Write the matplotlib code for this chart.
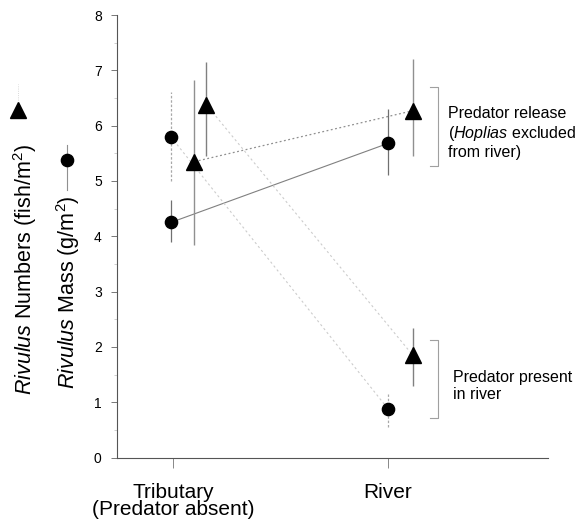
import matplotlib
matplotlib.use("Agg")
import matplotlib.pyplot as plt

plt.rcParams['font.family'] = ['Liberation Sans', 'DejaVu Sans']
plt.rcParams['mathtext.fontset'] = 'custom'
plt.rcParams['mathtext.rm'] = 'Liberation Sans'
plt.rcParams['mathtext.it'] = 'Liberation Sans:italic'

sites = ["Tributary\n(Predator absent)", "River"]

# mass (g/m2), circles
mass_release = [4.25, 5.68]
mass_release_lo = [3.9, 5.1]
mass_release_hi = [4.65, 6.3]
mass_present = [5.8, 0.88]
mass_present_lo = [5.0, 0.55]
mass_present_hi = [6.6, 1.15]

# numbers (fish/m2), triangles
num_release = [5.35, 6.27]
num_release_lo = [3.84, 5.45]
num_release_hi = [6.83, 7.2]
num_present = [6.38, 1.85]
num_present_lo = [5.45, 1.3]
num_present_hi = [7.15, 2.35]

# bracket spans for the two treatments
release_span = [5.27, 6.7]
present_span = [0.72, 2.12]

# horizontal offsets of each series at the two sites
off_mass = [-0.01, 0.0]
off_num_rel = [0.10, 0.115]
off_num_pre = [0.155, 0.115]

fig = plt.figure(figsize=(5.81, 5.25), dpi=100)
ax = fig.add_axes([0.2014, 0.1284, 0.742, 0.843])

xs = range(len(sites))
xm = [x + o for x, o in zip(xs, off_mass)]
xr = [x + o for x, o in zip(xs, off_num_rel)]
xp = [x + o for x, o in zip(xs, off_num_pre)]

# connecting lines
ax.plot(xm, mass_release, color='#808080', lw=0.8, zorder=1)
ax.plot(xr, num_release, color='#909090', lw=0.9, ls=(0, (1.5, 2)), zorder=1)
ax.plot(xm, mass_present, color='#cccccc', lw=0.8, ls=(0, (2, 2.5)), zorder=1)
ax.plot(xp, num_present, color='#cccccc', lw=0.8, ls=(0, (2, 2.5)), zorder=1)

# error bars
ax.vlines(xm, mass_release_lo, mass_release_hi, color='#707070', lw=0.9, zorder=2)
ax.vlines(xm, mass_present_lo, mass_present_hi, color='#a8a8a8', lw=0.9,
          ls=(0, (2, 1.5)), zorder=2)
ax.vlines(xr, num_release_lo, num_release_hi, color='#909090', lw=1.0, zorder=2)
ax.vlines(xp, num_present_lo, num_present_hi, color='#808080', lw=1.0, zorder=2)

# markers
ax.plot(xm, mass_release, 'o', color='black', ms=8.8, ls='none', zorder=3)
ax.plot(xm, mass_present, 'o', color='black', ms=8.8, ls='none', zorder=3)
ax.plot(xr, num_release, '^', color='black', ms=11, ls='none', zorder=3)
ax.plot(xp, num_present, '^', color='black', ms=11, ls='none', zorder=3)

# brackets
bx, bt = 1.23, 1.197
for lo, hi in [release_span, present_span]:
    ax.plot([bt, bx, bx, bt], [hi, hi, lo, lo], color='#a0a0a0', lw=0.8,
            clip_on=False)

ax.text(1.28, 5.87, "Predator release\n($\\it{Hoplias}$ excluded\nfrom river)",
        fontsize=11.5, va='center', ha='left', linespacing=1.2)
ax.text(1.30, 1.29, "Predator present\nin river", fontsize=11.5, va='center',
        ha='left', linespacing=1.2)

ax.set_xlim(-0.26, 1.744)
ax.set_ylim(0, 8)
ax.set_xticks(list(xs))
ax.set_xticklabels(sites, fontsize=15, linespacing=0.9)
ax.set_yticks(range(9))
ax.set_yticks([i + 0.5 for i in range(8)], minor=True)
ax.tick_params(axis='y', labelsize=10, length=4, width=0.7, pad=7,
               color='#777777')
ax.tick_params(axis='y', which='minor', length=2, width=0.5, color='#bbbbbb')
ax.tick_params(axis='x', length=7, width=0.7, pad=11, color='#888888')
for s in ['top', 'right']:
    ax.spines[s].set_visible(False)
for s in ['left', 'bottom']:
    ax.spines[s].set_color('#555555')
    ax.spines[s].set_linewidth(0.8)

# y labels with their symbol keys
fig.text(0.043, 0.486, "$\\it{Rivulus}$ Numbers (fish/m$^2$)", rotation=90,
         fontsize=15.5, ha='center', va='center')
fig.text(0.117, 0.444, "$\\it{Rivulus}$ Mass (g/m$^2$)", rotation=90,
         fontsize=15.5, ha='center', va='center')
fig.lines.append(plt.Line2D([0.031, 0.031], [0.81, 0.84], color='#cccccc',
                            lw=0.6, ls=':', transform=fig.transFigure))
fig.lines.append(plt.Line2D([0.031], [0.79], marker='^', color='black',
                            ms=11, transform=fig.transFigure))
fig.lines.append(plt.Line2D([0.115, 0.115], [0.638, 0.724], color='#909090',
                            lw=0.8, transform=fig.transFigure))
fig.lines.append(plt.Line2D([0.115], [0.695], marker='o', color='black',
                            ms=8.8, transform=fig.transFigure))

fig.savefig("out.png", dpi=100)
